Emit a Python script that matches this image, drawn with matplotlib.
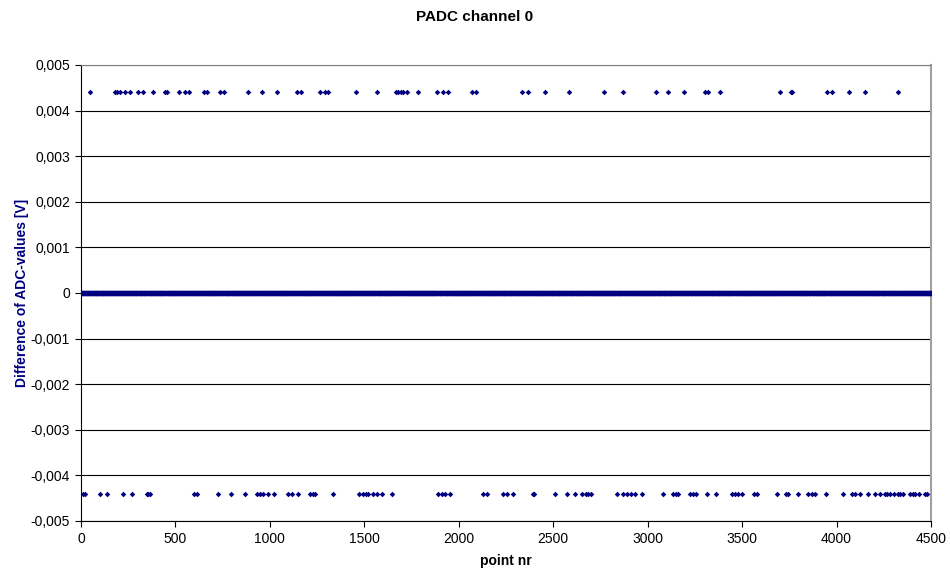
import numpy as np
import matplotlib.pyplot as plt
from matplotlib.ticker import FuncFormatter

plt.rcParams['font.family'] = ['Liberation Sans', 'DejaVu Sans']

# number of samples and the points where the difference jumped by one LSB
n_points = 4500
step = 0.0044

up_idx = [48, 180, 192, 206, 233, 259, 303, 330, 383, 445, 457, 520, 551, 573,
          651, 665, 736, 757, 882, 948, 957, 1036, 1142, 1163, 1265, 1292, 1309,
          1456, 1569, 1666, 1680, 1692, 1706, 1724, 1786, 1886, 1918, 1945, 2072,
          2091, 2333, 2365, 2456, 2585, 2771, 2871, 3042, 3109, 3192, 3304, 3321,
          3383, 3700, 3757, 3766, 3948, 3974, 4068, 4151, 4324]

down_idx = [12, 21, 101, 136, 221, 268, 348, 356, 365, 598, 616, 724, 794, 868,
            930, 948, 965, 992, 1023, 1098, 1115, 1150, 1212, 1230, 1239, 1336,
            1474, 1491, 1509, 1521, 1544, 1565, 1592, 1645, 1892, 1910, 1927, 1954,
            2130, 2148, 2232, 2254, 2289, 2391, 2398, 2509, 2575, 2615, 2651, 2674,
            2686, 2698, 2839, 2868, 2889, 2910, 2933, 2968, 3080, 3136, 3150, 3162,
            3224, 3238, 3256, 3312, 3362, 3445, 3462, 3480, 3498, 3563, 3581, 3686,
            3732, 3741, 3797, 3850, 3868, 3886, 3944, 4036, 4080, 4098, 4124, 4168,
            4203, 4230, 4256, 4269, 4283, 4304, 4327, 4336, 4353, 4389, 4403, 4415,
            4438, 4468, 4480]

x = np.arange(n_points + 1)
y = np.zeros(len(x))
y[up_idx] = step
y[down_idx] = -step

fig = plt.figure(figsize=(9.5, 5.73), dpi=100)
ax = fig.add_axes([81 / 950, 1 - 521 / 573, 850 / 950, 456 / 573])

ax.yaxis.grid(True, color='black', linewidth=0.8)
ax.set_axisbelow(True)
ax.scatter(x, y, marker='D', s=8, color='#000080', linewidths=0, zorder=3)

ax.set_xlim(0, 4500)
ax.set_ylim(-0.005, 0.005)
ax.set_xticks(np.arange(0, 4501, 500))
ax.set_yticks(np.arange(-0.005, 0.00501, 0.001))


def comma(v, pos):
    if abs(v) < 1e-9:
        return '0'
    return ('%.3f' % v).replace('.', ',')


ax.yaxis.set_major_formatter(FuncFormatter(comma))
ax.tick_params(axis='both', direction='out', length=4, width=0.8,
               labelsize=10, color='black', pad=4)

for side in ['left', 'bottom']:
    ax.spines[side].set_color('black')
    ax.spines[side].set_linewidth(0.8)
ax.spines['top'].set_color('#808080')
ax.spines['right'].set_color('#a0a0a0')
ax.spines['right'].set_linewidth(1.5)

fig.suptitle('PADC channel 0', x=0.5, y=1 - 17 / 573, fontsize=11,
             fontweight='bold', va='center')
ax.set_xlabel('point nr', fontsize=10, fontweight='bold', labelpad=6)
ax.set_ylabel('Difference of ADC-values [V]', fontsize=10, fontweight='bold',
              color='#000080', labelpad=1)

fig.savefig('out.png', dpi=100)
